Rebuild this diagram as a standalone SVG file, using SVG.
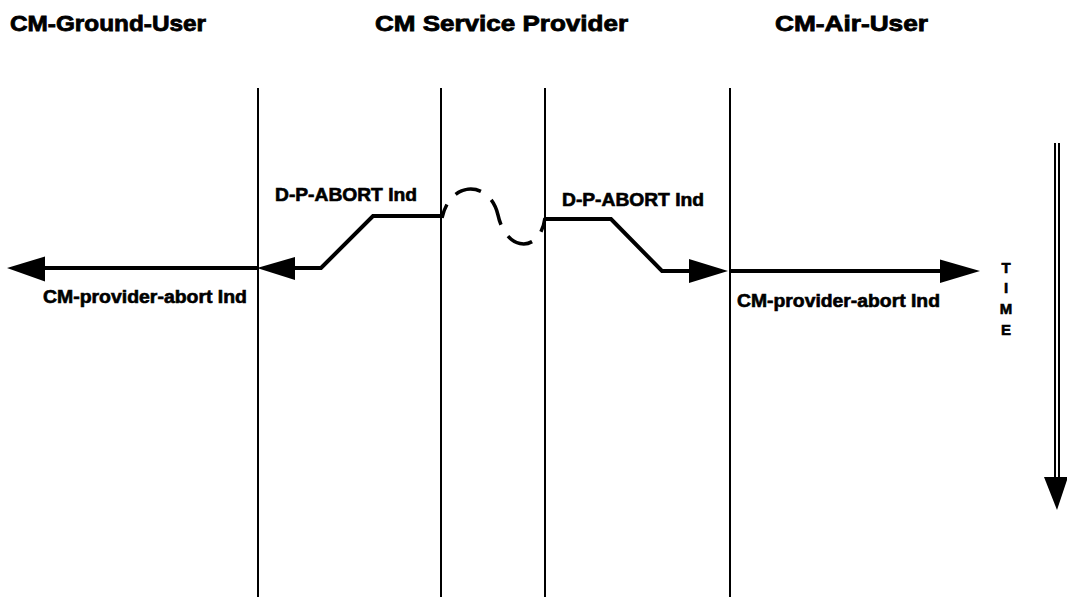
<svg xmlns="http://www.w3.org/2000/svg" width="1067" height="597" viewBox="0 0 1067 597">
  <style>
    text { font-family: "Liberation Sans", Arial, sans-serif; font-weight: bold; fill: #000; stroke: #000; stroke-width: 0.6px; }
    .title { font-size: 22px; stroke-width: 0.8px; }
    .label { font-size: 17.5px; }
    .time { font-size: 15px; text-anchor: middle; }
    .life { stroke: #000; stroke-width: 2; fill: none; }
    .msg { stroke: #000; stroke-width: 4; fill: none; stroke-linejoin: miter; }
    .head { fill: #000; stroke: none; }
    .loss { stroke: #000; stroke-width: 3.5; fill: none; stroke-dasharray: 28 14; stroke-dashoffset: 13; }
  </style>

  <!-- column headings and lifelines -->
  <g id="ground-user">
    <text class="title" x="10" y="31" textLength="196" lengthAdjust="spacingAndGlyphs">CM-Ground-User</text>
    <line class="life" x1="258" y1="88" x2="258" y2="597"/>
  </g>
  <g id="service-provider">
    <text class="title" x="375" y="31" textLength="253" lengthAdjust="spacingAndGlyphs">CM Service Provider</text>
    <line class="life" x1="441" y1="88" x2="441" y2="597"/>
    <line class="life" x1="545" y1="88" x2="545" y2="597"/>
  </g>
  <g id="air-user">
    <text class="title" x="775" y="31" textLength="153" lengthAdjust="spacingAndGlyphs">CM-Air-User</text>
    <line class="life" x1="730" y1="88" x2="730" y2="597"/>
  </g>

  <!-- time axis -->
  <g id="time-axis">
    <line class="life" x1="1055" y1="143" x2="1055" y2="480"/>
    <line class="life" x1="1059" y1="143" x2="1059" y2="480"/>
    <polygon class="head" points="1044,477 1068,477 1057,510"/>
    <text class="time" x="1006" y="273">T</text>
    <text class="time" x="1006" y="293">I</text>
    <text class="time" x="1006" y="314">M</text>
    <text class="time" x="1006" y="335">E</text>
  </g>

  <!-- primitives and indications -->
  <g id="connectors">
    <!-- ground side: D-P-ABORT indication then CM-provider-abort indication -->
    <polyline class="msg" points="441,216 373,216 321,268 290,268"/>
    <polygon class="head" points="257,268 295,257 295,280"/>
    <line class="msg" x1="258" y1="268" x2="40" y2="268"/>
    <polygon class="head" points="7,268 45,256.5 45,281.5"/>

    <!-- air side: D-P-ABORT indication then CM-provider-abort indication -->
    <polyline class="msg" points="545,219 611,219 662,271 694,271"/>
    <polygon class="head" points="728,271 689,259 689,283"/>
    <line class="msg" x1="730" y1="271" x2="945" y2="271"/>
    <polygon class="head" points="980,271 940,259.5 940,283"/>

    <!-- broken connection inside the provider -->
    <path class="loss" pathLength="170" d="M442,218 C450,180 490,180 498,215 C506,252 540,254 545,218"/>
  </g>

  <!-- message labels -->
  <g id="labels">
    <text class="label" x="275" y="201" textLength="142" lengthAdjust="spacingAndGlyphs">D-P-ABORT Ind</text>
    <text class="label" x="562" y="206" textLength="142" lengthAdjust="spacingAndGlyphs">D-P-ABORT Ind</text>
    <text class="label" x="43" y="303" textLength="204" lengthAdjust="spacingAndGlyphs">CM-provider-abort Ind</text>
    <text class="label" x="737" y="307" textLength="203" lengthAdjust="spacingAndGlyphs">CM-provider-abort Ind</text>
  </g>
</svg>
